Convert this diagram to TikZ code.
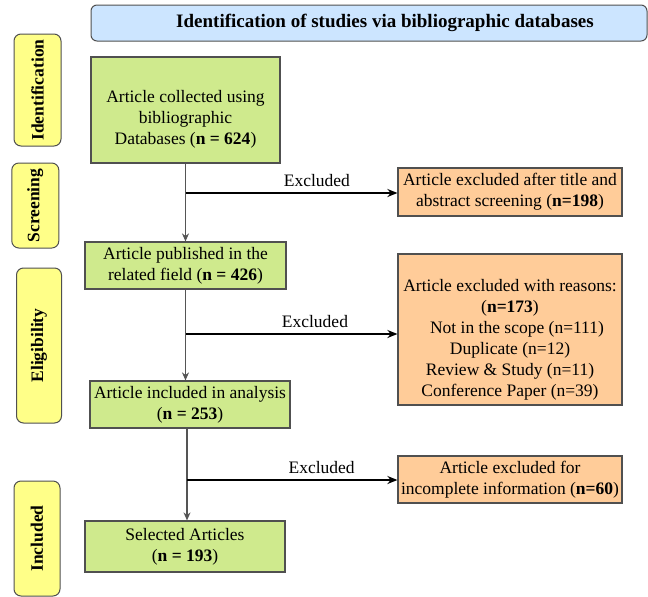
\documentclass[tikz,border=0pt]{standalone}
\usepackage{fontspec}
\setmainfont{Liberation Serif}
\usetikzlibrary{arrows.meta}
\definecolor{hdrblue}{HTML}{CCE5FF}
\definecolor{stagey}{HTML}{FFFF88}
\definecolor{keepgreen}{HTML}{CFEA8D}
\definecolor{dropor}{HTML}{FFCC99}
\definecolor{edgegray}{HTML}{505050}
\definecolor{flowgray}{HTML}{555555}

\begin{document}
\begin{tikzpicture}[x=1pt,y=-1pt,
  every node/.style={font=\fontsize{17.5}{21}\selectfont, inner sep=0pt, align=center},
  titlebox/.style={draw=edgegray, line width=1pt, fill=hdrblue, rounded corners=6pt,
    font=\fontsize{19}{23}\selectfont\bfseries},
  stagebox/.style={draw=edgegray, line width=1pt, fill=stagey, rounded corners=7pt},
  stagetext/.style={rotate=90, font=\fontsize{17.5}{21}\selectfont\bfseries},
  keepbox/.style={draw=edgegray, line width=1.2pt, fill=keepgreen},
  dropbox/.style={draw=edgegray, line width=1.2pt, fill=dropor},
  flow/.style={draw=flowgray, line width=1.2pt, -{Stealth[length=8pt,width=7pt]}},
  branch/.style={draw=black, line width=1.8pt, -{Stealth[length=10pt,width=8pt]}},
  exlabel/.style={above=5pt}]

\useasboundingbox (0,0) rectangle (648,597);

% header
\node[titlebox, minimum width=556, minimum height=36] (title) at (369,23)
  {\hspace*{32pt}\raisebox{-3pt}{Identification of studies via bibliographic databases}};

% stage labels on the left
\node[stagebox, minimum width=47, minimum height=112] (sIdent) at (37.5,90) {};
\node[stagetext] (sIdentT) at (sIdent.center) {Identification};
\node[stagebox, minimum width=47, minimum height=85] (sScreen) at (35.3,205.5) {};
\node[stagetext] (sScreenT) at (sScreen.center) {Screening};
\node[stagebox, minimum width=45, minimum height=155] (sElig) at (39,345.5) {};
\node[stagetext] (sEligT) at (sElig.center) {Eligibility};
\node[stagebox, minimum width=46, minimum height=115] (sIncl) at (37,538.5) {};
\node[stagetext] (sInclT) at (sIncl.center) {Included};

% main flow
\node[keepbox, minimum width=189, minimum height=106] (b1) at (185.5,110) {};
\node (b1t) at ([yshift=-9pt]b1.center)
  {Article collected using\\ bibliographic\\ Databases (\textbf{n = 624})};
\node[keepbox, minimum width=201, minimum height=47] (b2) at (185.5,265.5)
  {Article published in the\\ related field (\textbf{n = 426})};
\node[keepbox, minimum width=200, minimum height=47] (b3) at (190,404.5)
  {Article included in analysis\\ (\textbf{n = 253})};
\node[keepbox, minimum width=200, minimum height=51] (b4) at (185,546.5)
  {Selected Articles\\ (\textbf{n = 193})};

% exclusions
\node[dropbox, minimum width=224, minimum height=48] (o1) at (510,192)
  {Article excluded after title and\\ abstract screening (\textbf{n=198})};
\node[dropbox, minimum width=224, minimum height=151] (o2) at (510,329.5) {};
\node (o2t) at ([yshift=-10pt]o2.center)
  {Article excluded with reasons:\\ (\textbf{n=173})\\
   \hspace*{14pt}Not in the scope (n=111)\\ Duplicate (n=12)\\
   Review \& Study (n=11)\\ Conference Paper (n=39)};
\node[dropbox, minimum width=224, minimum height=47] (o3) at (510,479.5)
  {Article excluded for\\ incomplete information (\textbf{n=60})};

% branch points on the vertical flow
\coordinate (j1) at (185.5,193);
\coordinate (j2) at (186,334);
\coordinate (j3) at (187,480);

\draw[flow] (b1.south) -- (b1.south |- b2.north);
\draw[flow] (b2.south) -- (b2.south |- b3.north);
\draw[flow] ([xshift=-3pt]b3.south) -- ([xshift=-3pt]b3.south |- b4.north);

\draw[branch] (j1) -- node[exlabel, pos=0.62] (e1) {Excluded} (j1 -| o1.west);
\draw[branch] (j2) -- node[exlabel, pos=0.61] (e2) {Excluded} (j2 -| o2.west);
\draw[branch] (j3) -- node[exlabel, pos=0.64] (e3) {Excluded} (j3 -| o3.west);
\end{tikzpicture}
\end{document}
